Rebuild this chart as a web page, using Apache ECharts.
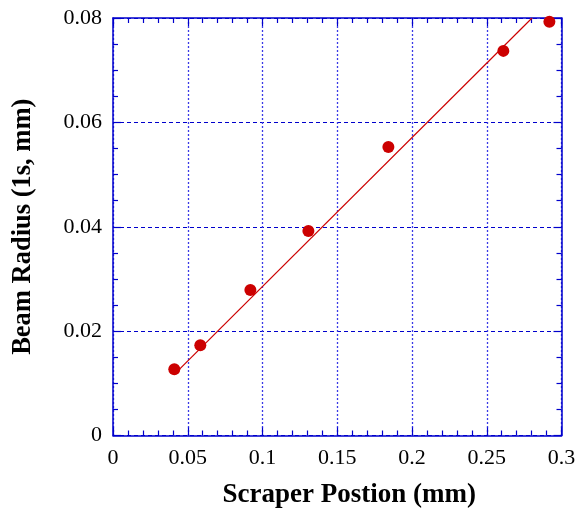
<!DOCTYPE html>
<html><head><meta charset="utf-8">
<script src="https://cdn.jsdelivr.net/npm/echarts@6/dist/echarts.min.js"></script>
<style>html,body{margin:0;padding:0;background:#fff}#c{width:579px;height:516px}</style>
</head><body><div id="c"></div>
<script>
const scraperPos = [0.041, 0.0584, 0.0919, 0.1307, 0.1842, 0.2611, 0.2919];
const beamRadius = [0.0127, 0.0173, 0.0279, 0.0392, 0.0553, 0.0737, 0.0793];
const fitX = [0.042, 0.2803];
const fitY = [0.0120, 0.0800];
const xTitle = 'Scraper Postion (mm)';
const yTitle = 'Beam Radius (1s, mm)';

const blue = '#0000cc';
const font = 'Liberation Serif';
const chart = echarts.init(document.getElementById('c'));
const commonAxis = {
  axisLine: {show: true, onZero: false, lineStyle: {color: blue, width: 1.5}},
  axisTick: {show: true, inside: true, length: 8, lineStyle: {color: blue, width: 1.2}},
  minorTick: {show: true, length: 5, lineStyle: {color: blue, width: 1.2}}
};
chart.setOption({
  animation: false,
  grid: {left: 113, right: 17.5, top: 18, bottom: 80.5, show: false},
  xAxis: [
    Object.assign({}, commonAxis, {
      type: 'value', min: 0, max: 0.3, interval: 0.05, position: 'bottom',
      minorTick: Object.assign({}, commonAxis.minorTick, {splitNumber: 5}),
      axisLabel: {color: '#000', fontFamily: font, fontSize: 22, margin: 12,
        formatter: v => String(+v.toFixed(2))},
      splitLine: {show: true, lineStyle: {color: '#3a3ae6', type: [2, 2], width: 1.3}},
      name: xTitle, nameLocation: 'middle', nameGap: 46,
      nameTextStyle: {color: '#000', fontFamily: font, fontSize: 27, fontWeight: 'bold', padding: [0, 0, 0, 24]}
    }),
    Object.assign({}, commonAxis, {
      type: 'value', min: 0, max: 0.3, interval: 0.05, position: 'top',
      minorTick: Object.assign({}, commonAxis.minorTick, {splitNumber: 5}),
      axisLabel: {show: false}, splitLine: {show: false}
    })
  ],
  yAxis: [
    Object.assign({}, commonAxis, {
      type: 'value', min: 0, max: 0.08, interval: 0.02, position: 'left',
      minorTick: Object.assign({}, commonAxis.minorTick, {splitNumber: 4}),
      axisLabel: {color: '#000', fontFamily: font, fontSize: 22, margin: 11,
        formatter: v => String(+v.toFixed(2))},
      splitLine: {show: true, lineStyle: {color: blue, type: [4, 3], width: 1}},
      name: yTitle, nameLocation: 'middle', nameGap: 76,
      nameTextStyle: {color: '#000', fontFamily: font, fontSize: 26.5, fontWeight: 'bold'}
    }),
    Object.assign({}, commonAxis, {
      type: 'value', min: 0, max: 0.08, interval: 0.02, position: 'right',
      minorTick: Object.assign({}, commonAxis.minorTick, {splitNumber: 4}),
      axisLabel: {show: false}, splitLine: {show: false}
    })
  ],
  series: [
    {
      type: 'line', xAxisIndex: 0, yAxisIndex: 0,
      data: fitX.map((x, i) => [x, fitY[i]]),
      symbol: 'none', lineStyle: {color: '#cc0000', width: 1.2}, z: 3
    },
    {
      type: 'scatter', xAxisIndex: 0, yAxisIndex: 0,
      data: scraperPos.map((x, i) => [x, beamRadius[i]]),
      symbol: 'circle', symbolSize: 12, itemStyle: {color: '#cc0000', opacity: 1}, z: 4
    }
  ]
});
</script></body></html>
